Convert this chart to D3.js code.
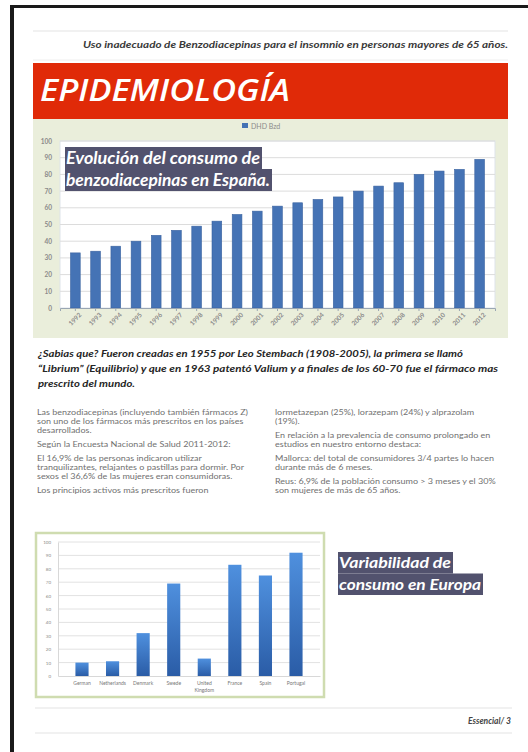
<!DOCTYPE html>
<html lang="es">
<head>
<meta charset="UTF-8"/>
<title>Epidemiología - benzodiacepinas</title>
<script src="https://d3js.org/d3.v7.min.js"></script>
<style>
    body { margin: 0; background: #fff; }
    svg { display: block; font-family: Lato, "Open Sans", sans-serif; }
</style>
</head>
<body>
<div id="page"></div>
<script>
    // data for the spanish chart (DHD Bzd per year)
    var years = ["1992", "1993", "1994", "1995", "1996", "1997", "1998", "1999", "2000", "2001", "2002",
        "2003", "2004", "2005", "2006", "2007", "2008", "2009", "2010", "2011", "2012"];
    var dhdBzd = [33, 34, 37, 40, 43.5, 46.5, 49, 52, 56, 58, 61, 63, 65, 66.5, 70, 73, 75, 80, 82, 83, 89];
    var yTicksTop = [0, 10, 20, 30, 40, 50, 60, 70, 80, 90, 100];

    // data for the european chart
    var countries = ["German", "Netherlands", "Denmark", "Swede", "United Kingdom", "France", "Spain", "Portugal"];
    var consumo = [10, 11, 32, 69, 13, 83, 75, 92];
    var yTicksBottom = [0, 10, 20, 30, 40, 50, 60, 70, 80, 90, 100];

    var headerText = "Uso inadecuado de Benzodiacepinas para el insomnio en personas mayores de 65 años.";
    var sabiasLines = [
        "¿Sabias que? Fueron creadas en 1955 por Leo Stembach (1908-2005), la primera se llamó",
        "“Librium” (Equilibrio) y que en 1963 patentó Valium y a finales de los 60-70 fue el fármaco mas",
        "prescrito del mundo."
    ];
    var leftCol = [
        ["Las benzodiacepinas (incluyendo también fármacos Z)", "son uno de los fármacos más prescritos en los países", "desarrollados."],
        ["Según la Encuesta Nacional de Salud 2011-2012:"],
        ["El 16,9% de las personas indicaron utilizar", "tranquilizantes, relajantes o pastillas para dormir. Por", "sexos el 36,6% de las mujeres eran consumidoras."],
        ["Los principios activos más prescritos fueron"]
    ];
    var rightCol = [
        ["lormetazepan (25%), lorazepam (24%) y alprazolam", "(19%)."],
        ["En relación a la prevalencia de consumo prolongado en", "estudios en nuestro entorno destaca:"],
        ["Mallorca: del total de consumidores 3/4 partes lo hacen", "durante más de 6 meses."],
        ["Reus: 6,9% de la población consumo > 3 meses y el 30%", "son mujeres de más de 65 años."]
    ];

    var width = 528, height = 752;
    var svg = d3.select("#page").append("svg").attr("width", width).attr("height", height);

    // page frame (black border left / top)
    svg.append("rect").attr("x", 0).attr("y", 0).attr("width", width).attr("height", height).attr("fill", "#fff");
    svg.append("rect").attr("x", 10).attr("y", 5).attr("width", 4).attr("height", height - 5).attr("fill", "#1a1a1a");
    svg.append("rect").attr("x", 10).attr("y", 5).attr("width", width - 10).attr("height", 3).attr("fill", "#1a1a1a");

    // header
    svg.append("line").attr("x1", 33).attr("x2", 508).attr("y1", 31).attr("y2", 31).attr("stroke", "#e3e3e3");
    svg.append("text").attr("x", 508).attr("y", 48).attr("text-anchor", "end")
        .attr("font-size", 9.5).attr("font-weight", "bold").attr("font-style", "italic").attr("fill", "#3a3a3a")
        .attr("textLength", 425).attr("lengthAdjust", "spacingAndGlyphs")
        .text(headerText);
    svg.append("line").attr("x1", 33).attr("x2", 508).attr("y1", 60).attr("y2", 60).attr("stroke", "#eee");

    // red banner
    svg.append("rect").attr("x", 33).attr("y", 63).attr("width", 475).attr("height", 56).attr("fill", "#e02a08");
    svg.append("text").attr("x", 40).attr("y", 101).attr("font-size", 31).attr("font-style", "italic")
        .attr("font-weight", 600).attr("font-family", "'Open Sans', sans-serif")
        .attr("fill", "#fff").attr("textLength", 250).attr("lengthAdjust", "spacingAndGlyphs")
        .text("EPIDEMIOLOGÍA");

    // ---------- top chart ----------
    svg.append("rect").attr("x", 33).attr("y", 119).attr("width", 475).attr("height", 219).attr("fill", "#eaeedb");

    var xTop = d3.scaleBand().domain(years).range([60, 495]).padding(0.52);
    var yTop = d3.scaleLinear().domain([0, 100]).range([308, 141]);

    svg.append("rect").attr("x", 60).attr("y", 141).attr("width", 435).attr("height", 167)
        .attr("fill", "#fff").attr("stroke", "#dde3ea");

    // gridlines
    svg.append("g").selectAll("line").data(yTicksTop.slice(1)).enter().append("line")
        .attr("x1", 60).attr("x2", 495)
        .attr("y1", function (d) { return yTop(d); })
        .attr("y2", function (d) { return yTop(d); })
        .attr("stroke", "#dcdcdc");

    // legend
    svg.append("rect").attr("x", 242).attr("y", 123).attr("width", 6).attr("height", 5).attr("fill", "#4472b4");
    svg.append("text").attr("x", 251).attr("y", 128.5).attr("font-size", 7).attr("fill", "#8a8a8a").text("DHD Bzd");

    svg.append("g").selectAll("rect").data(dhdBzd).enter().append("rect")
        .attr("x", function (d, i) { return xTop(years[i]); })
        .attr("y", function (d) { return yTop(d); })
        .attr("width", xTop.bandwidth())
        .attr("height", function (d) { return yTop(0) - yTop(d); })
        .attr("fill", "#4573b5")
        .attr("stroke", "#3a63a0").attr("stroke-width", 0.6);

    var yAxisTop = d3.axisLeft(yTop).tickValues(yTicksTop).tickSize(0).tickPadding(8);
    svg.append("g").attr("transform", "translate(60,0)").call(yAxisTop)
        .call(function (g) { g.select(".domain").remove(); })
        .selectAll("text").attr("font-size", 6.5).attr("font-weight", "bold").attr("fill", "#8a8a8a")
        .attr("font-family", "Lato, sans-serif");

    var xAxisTop = d3.axisBottom(xTop).tickSize(3);
    var gx = svg.append("g").attr("transform", "translate(0,308)").call(xAxisTop);
    gx.select(".domain").attr("stroke", "#9aa6b3");
    gx.selectAll(".tick line").attr("stroke", "#9aa6b3");
    gx.selectAll("text").attr("font-size", 6.5).attr("font-weight", "bold").attr("fill", "#8a8a8a")
        .attr("font-family", "Lato, sans-serif")
        .attr("text-anchor", "end").attr("dx", "-0.1em").attr("dy", "0.6em")
        .attr("transform", "rotate(-45)");

    // title overlay
    function highlightTitle(lines, x, y0, lineH, size, boxW) {
        lines.forEach(function (t, i) {
            svg.append("rect").attr("x", x).attr("y", y0 + i * lineH).attr("width", boxW[i]).attr("height", lineH)
                .attr("fill", "#52526e");
            svg.append("text").attr("x", x + 1).attr("y", y0 + i * lineH + lineH * 0.76)
                .attr("font-size", size).attr("font-weight", "bold").attr("font-style", "italic")
                .attr("fill", "#fff").attr("textLength", boxW[i] - 3).attr("lengthAdjust", "spacingAndGlyphs")
                .text(t);
        });
    }
    highlightTitle(["Evolución del consumo de", "benzodiacepinas en España."], 65, 147, 22, 16.5, [197, 207]);

    // ---------- text block ----------
    var sab = svg.append("g");
    sabiasLines.forEach(function (t, i) {
        var tx = sab.append("text").attr("x", 38).attr("y", 357 + i * 15)
            .attr("font-size", 10.3).attr("font-weight", "bold").attr("font-style", "italic").attr("fill", "#262626")
            .text(t);
        if (i === 0) tx.attr("textLength", 425).attr("lengthAdjust", "spacingAndGlyphs");
        if (i === 1) tx.attr("textLength", 460).attr("lengthAdjust", "spacingAndGlyphs");
        if (i === 2) tx.attr("textLength", 97).attr("lengthAdjust", "spacingAndGlyphs");
    });

    // body columns: small Lato, stretched a bit sideways like the wide magazine face
    function column(paras, x, y0) {
        var y = y0;
        paras.forEach(function (p) {
            p.forEach(function (t) {
                var tx = svg.append("text").attr("x", x).attr("y", y).attr("font-size", 7.5)
                    .attr("fill", "#707070").text(t);
                var w = tx.node().getComputedTextLength();
                tx.attr("textLength", w * 1.2).attr("lengthAdjust", "spacingAndGlyphs");
                y += 9.4;
            });
            y += 4.2;
        });
    }
    column(leftCol, 37, 414.5);
    column(rightCol, 275, 414.5);

    // ---------- bottom chart ----------
    svg.append("rect").attr("x", 36).attr("y", 533).attr("width", 288).attr("height", 164)
        .attr("fill", "#fff").attr("stroke", "#cfdcb0").attr("stroke-width", 2.5);

    var xBot = d3.scaleBand().domain(countries).range([58, 320]).padding(0.57);
    var yBot = d3.scaleLinear().domain([0, 100]).range([676, 542]);

    var defs = svg.append("defs");
    var grad = defs.append("linearGradient").attr("id", "barGrad").attr("x1", 0).attr("x2", 0).attr("y1", 0).attr("y2", 1);
    grad.append("stop").attr("offset", "0%").attr("stop-color", "#4f90de");
    grad.append("stop").attr("offset", "100%").attr("stop-color", "#2a5ca6");

    svg.append("g").selectAll("line").data(yTicksBottom.slice(1)).enter().append("line")
        .attr("x1", 58).attr("x2", 320)
        .attr("y1", function (d) { return yBot(d); })
        .attr("y2", function (d) { return yBot(d); })
        .attr("stroke", "#e2e2e2");

    svg.append("g").selectAll("rect").data(consumo).enter().append("rect")
        .attr("x", function (d, i) { return xBot(countries[i]); })
        .attr("y", function (d) { return yBot(d); })
        .attr("width", xBot.bandwidth())
        .attr("height", function (d) { return yBot(0) - yBot(d); })
        .attr("fill", "url(#barGrad)");

    var yAxisBot = d3.axisLeft(yBot).tickValues(yTicksBottom).tickSize(0).tickPadding(7);
    svg.append("g").attr("transform", "translate(58,0)").call(yAxisBot)
        .call(function (g) { g.select(".domain").attr("stroke", "#d8d8d8"); })
        .selectAll("text").attr("font-size", 4.5).attr("fill", "#888").attr("font-family", "Lato, sans-serif");

    var xAxisBot = d3.axisBottom(xBot).tickSize(0).tickPadding(5);
    var gb = svg.append("g").attr("transform", "translate(0,676)").call(xAxisBot);
    gb.select(".domain").attr("stroke", "#d8d8d8");
    gb.selectAll("text").attr("font-size", 5).attr("fill", "#777").attr("font-family", "Lato, sans-serif")
        .each(function (d) {
            var parts = d.split(" ");
            if (parts.length > 1) {
                var t = d3.select(this).text(null);
                parts.forEach(function (p, k) {
                    t.append("tspan").attr("x", 0).attr("dy", k === 0 ? "0.71em" : "1.4em").text(p);
                });
            }
        });

    highlightTitle(["Variabilidad de", "consumo en Europa"], 338, 552, 21.5, 15, [115, 145]);

    // footer
    svg.append("line").attr("x1", 35).attr("x2", 512).attr("y1", 708).attr("y2", 708).attr("stroke", "#e3e3e3");
    svg.append("text").attr("x", 511).attr("y", 724).attr("text-anchor", "end").attr("font-size", 8.5)
        .attr("font-weight", "bold").attr("font-style", "italic").attr("fill", "#444").text("Essencial/ 3");
    svg.append("line").attr("x1", 35).attr("x2", 512).attr("y1", 733).attr("y2", 733).attr("stroke", "#e3e3e3");
</script>
</body>
</html>
